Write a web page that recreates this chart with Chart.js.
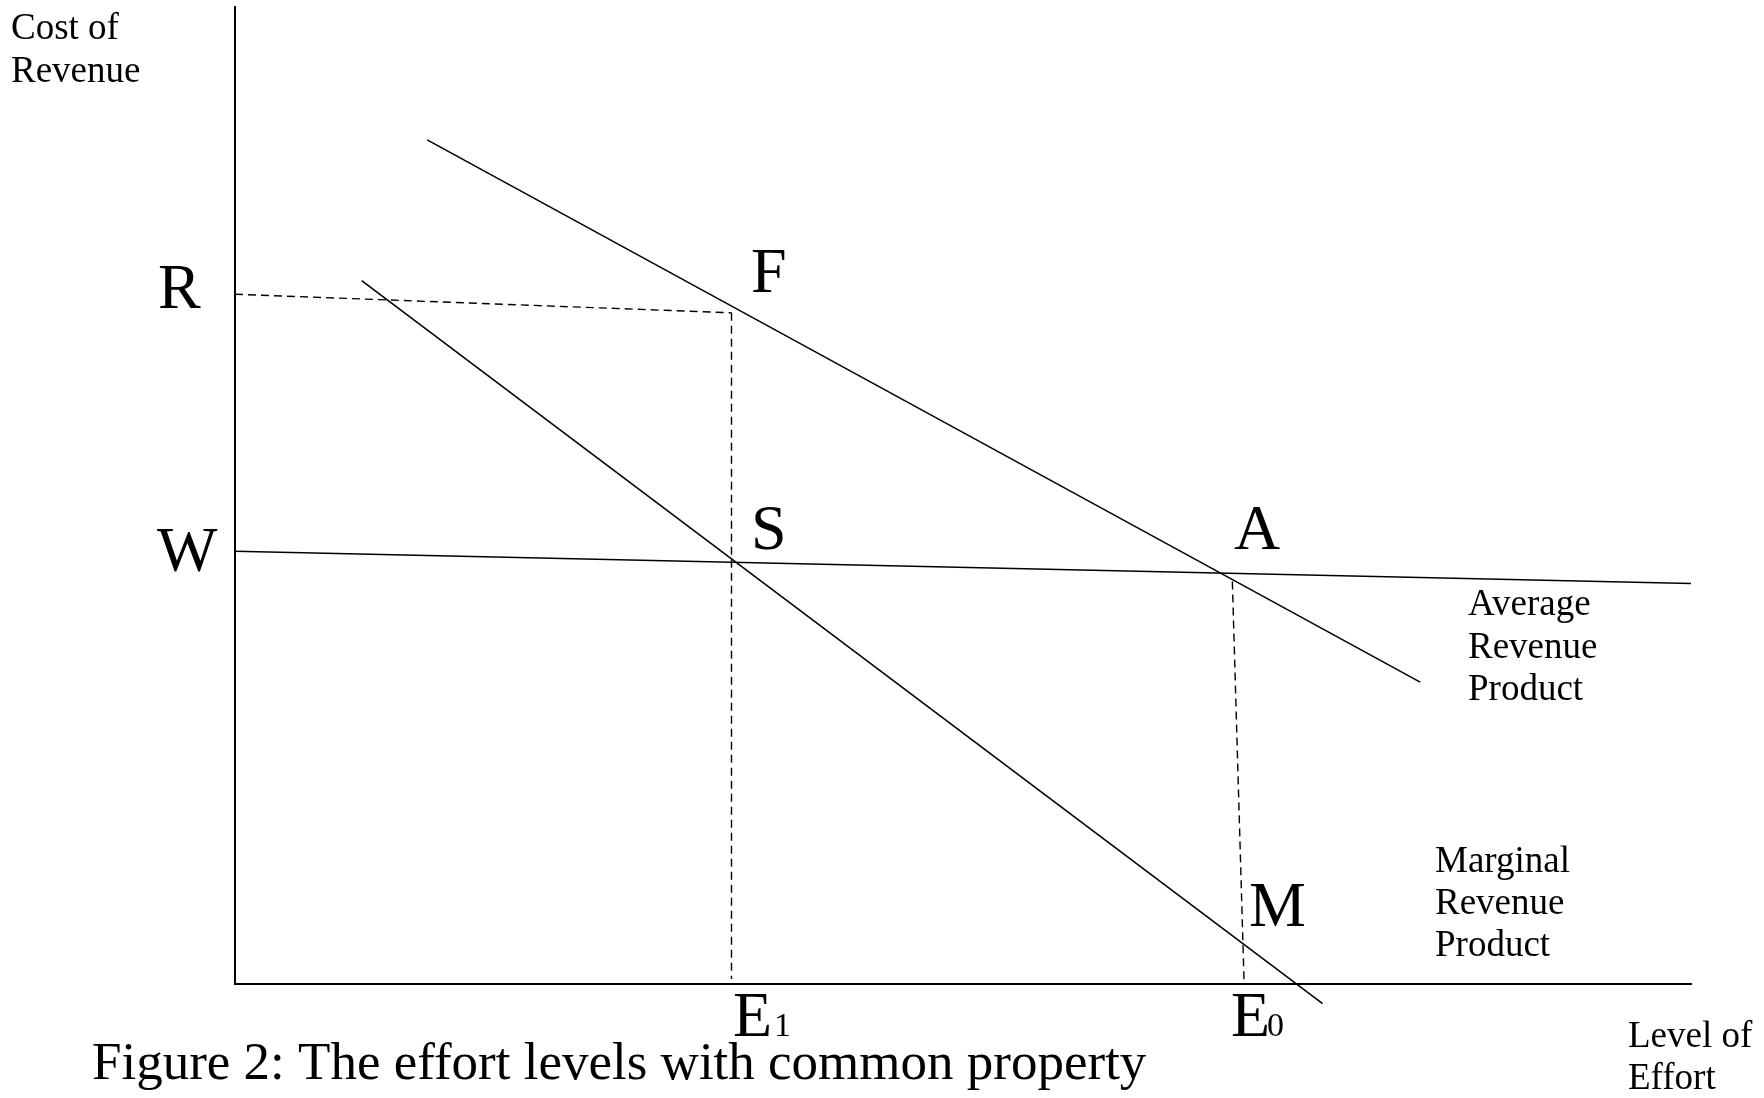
<!DOCTYPE html>
<html><head><meta charset="utf-8">
<script src="https://cdn.jsdelivr.net/npm/chart.js@4"></script>
<style>html,body{margin:0;padding:0;background:#fff;overflow:hidden}#wrap{width:1764px;height:1098px}</style>
</head><body><div id="wrap"><canvas id="c" width="1764" height="1098"></canvas></div>
<script>
// Effort units (x) and cost/revenue units (y)
const arpX = [13.2, 81.4];        // Average Revenue Product
const arpY = [86.4, 30.9];
const mrpX = [8.7, 74.7];         // Marginal Revenue Product
const mrpY = [72.0, -2.0];
const wageX = [0, 100];           // W line
const wageY = [44.3, 41.0];
const rDashX = [0, 34.1];         // R level, dashed
const rDashY = [70.6, 68.7];
const e1DashX = [34.1, 34.1];     // E1 drop line
const e1DashY = [68.7, 0.5];
const e0DashX = [68.5, 69.3];     // E0 drop line
const e0DashY = [41.2, 0.4];

const pts = (xs, ys) => xs.map((x, i) => ({x, y: ys[i]}));
const solid = (xs, ys) => ({data: pts(xs, ys), showLine: true, borderColor: '#000', borderWidth: 1.6, pointRadius: 0, clip: false, fill: false, tension: 0});
const dashed = (xs, ys) => Object.assign(solid(xs, ys), {borderDash: [8, 5], borderWidth: 1.4});

const SERIF = '"Liberation Serif", "DejaVu Serif", serif';
const labelPlugin = {
  id: 'labels',
  afterDraw(chart) {
    const c = chart.ctx;
    c.save();
    c.fillStyle = '#000';
    c.textBaseline = 'alphabetic';
    c.textAlign = 'left';
    const t = (s, x, y, size) => { c.font = size + 'px ' + SERIF; c.fillText(s, x, y); };
    t('Cost of', 11, 39, 37);
    t('Revenue', 11, 82, 37);
    t('R', 158, 308, 64);
    t('W', 157, 571, 64);
    t('F', 751, 292, 64);
    t('S', 751, 549, 64);
    t('A', 1234, 549, 64);
    t('M', 1249, 926, 64);
    t('E', 733, 1036, 64); t('1', 774, 1036, 34);
    t('E', 1231, 1036, 64); t('0', 1267, 1036, 34);
    t('Average', 1468, 615, 37);
    t('Revenue', 1468, 658, 37);
    t('Product', 1468, 700, 37);
    t('Marginal', 1435, 872, 37);
    t('Revenue', 1435, 914, 37);
    t('Product', 1435, 956, 37);
    t('Level of', 1628, 1047, 37);
    t('Effort', 1628, 1089, 37);
    t('Figure 2: The effort levels with common property', 92, 1079, 53);
    c.restore();
  }
};

new Chart(document.getElementById('c'), {
  type: 'scatter',
  data: {datasets: [
    solid(arpX, arpY), solid(mrpX, mrpY), solid(wageX, wageY),
    dashed(rDashX, rDashY), dashed(e1DashX, e1DashY), dashed(e0DashX, e0DashY)
  ]},
  options: {
    responsive: false, animation: false, devicePixelRatio: 1,
    layout: {padding: {left: 235, right: 73, top: 7, bottom: 114}},
    plugins: {legend: {display: false}, tooltip: {enabled: false}},
    scales: {
      x: {type: 'linear', min: 0, max: 100, grid: {display: false, drawTicks: false}, ticks: {display: false}, border: {display: true, color: '#000', width: 2}},
      y: {type: 'linear', min: 0, max: 100, grid: {display: false, drawTicks: false}, ticks: {display: false}, border: {display: true, color: '#000', width: 2}}
    }
  },
  plugins: [labelPlugin]
});
</script></body></html>
